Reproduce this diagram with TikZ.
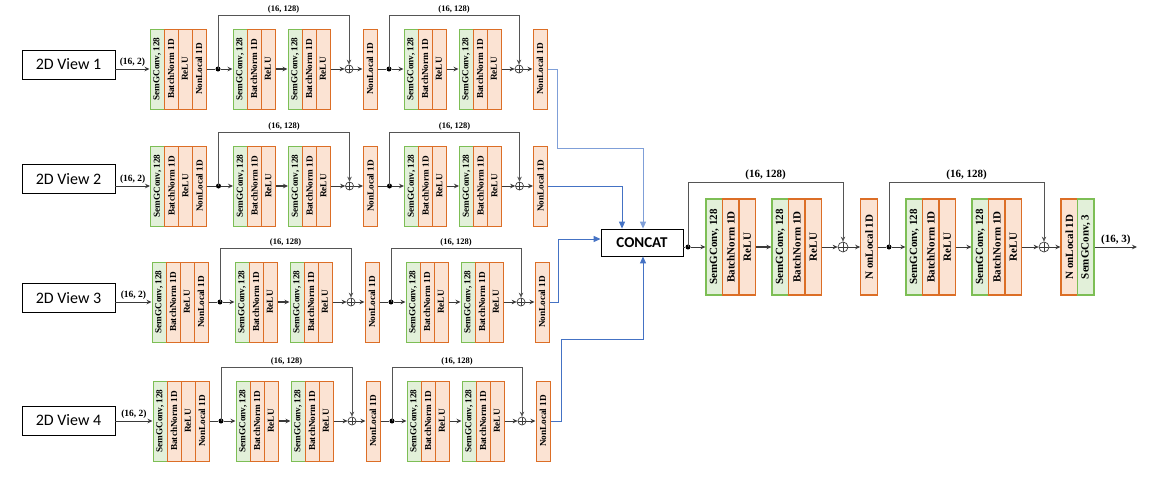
\documentclass[tikz,border=0pt]{standalone}
\usepackage{fontspec}
\setmainfont{Liberation Serif}
\newfontfamily\carlito{Carlito}
\usetikzlibrary{arrows.meta,calc}
\definecolor{gfill}{HTML}{E2F0D9}
\definecolor{gdraw}{HTML}{7DBE55}
\definecolor{ofill}{HTML}{FBE3D3}
\definecolor{odraw}{HTML}{DC6E26}
\definecolor{bline}{HTML}{4472C4}
\definecolor{bline2}{HTML}{7F9FD8}
\definecolor{gline}{HTML}{3A3A3A}
\definecolor{sline}{HTML}{555555}
\tikzset{
  blk/.style={minimum width=14pt, minimum height=80pt, inner sep=0pt, line width=1pt,
    font=\bfseries\fontsize{9.2}{10}\selectfont},
  gbox/.style={blk, draw=gdraw, fill=gfill},
  obox/.style={blk, draw=odraw, fill=ofill},
  bblk/.style={minimum width=16.5pt, minimum height=96pt, inner sep=0pt, line width=1.1pt,
    font=\bfseries\fontsize{11}{12}\selectfont},
  gbig/.style={bblk, draw=gdraw, fill=gfill},
  obig/.style={bblk, draw=odraw, fill=ofill},
  jdot/.style={circle, fill=black, inner sep=0pt, minimum size=5pt},
  plus/.style={circle, draw=gline, line width=0.7pt, inner sep=0pt, minimum size=#1,
    path picture={\draw[gline, line width=0.7pt] (path picture bounding box.north) -- (path picture bounding box.south)
      (path picture bounding box.west) -- (path picture bounding box.east);}},
  plus/.default=8pt,
  conn/.style={draw=gline, line width=0.9pt, -{Stealth[length=5pt,width=4.5pt]}},
  plain/.style={draw=gline, line width=0.9pt},
  skipln/.style={draw=sline, line width=0.8pt, -{Stealth[length=5pt,width=4.5pt]}},
  lbl/.style={font=\bfseries\fontsize{8.5}{9}\selectfont, inner sep=1pt},
  biglbl/.style={font=\bfseries\fontsize{11}{12}\selectfont, inner sep=1.5pt},
  view/.style={draw=black, line width=0.8pt, minimum width=93pt, minimum height=29pt, inner sep=0pt,
    font=\carlito\fontsize{16}{18}\selectfont},
  bluearr/.style={draw=#1, line width=1pt, -{Triangle[length=7pt,width=6pt]}},
}
\begin{document}
\begin{tikzpicture}[x=1pt,y=-1pt]
\useasboundingbox (0,0) rectangle (1151,477);

\foreach \r/\Y/\dx/\cy in {1/69/0/64.5, 2/186/0.5/179, 3/302/2/298, 4/421/3/420.5}{
  \node[view] (v\r) at (68.5,\cy) {2D View \r};
  % first block
  \node[gbox] (g1-\r) at ({157+\dx},\Y) {\rotatebox{90}{SemGConv, 128}};
  \node[obox] (b1-\r) at ({171+\dx},\Y) {\rotatebox{90}{BatchNorm 1D}};
  \node[obox] (r1-\r) at ({185+\dx},\Y) {\rotatebox{90}{ReLU}};
  \node[obox] (nl1-\r) at ({199+\dx},\Y) {\rotatebox{90}{NonLocal 1D}};
  \node[jdot] (d1-\r) at ({218+\dx},\Y) {};
  \node[gbox] (g2-\r) at ({240+\dx},\Y) {\rotatebox{90}{SemGConv, 128}};
  \node[obox] (b2-\r) at ({254+\dx},\Y) {\rotatebox{90}{BatchNorm 1D}};
  \node[obox] (r2-\r) at ({268+\dx},\Y) {\rotatebox{90}{ReLU}};
  \node[gbox] (g3-\r) at ({295+\dx},\Y) {\rotatebox{90}{SemGConv, 128}};
  \node[obox] (b3-\r) at ({309+\dx},\Y) {\rotatebox{90}{BatchNorm 1D}};
  \node[obox] (r3-\r) at ({323+\dx},\Y) {\rotatebox{90}{ReLU}};
  \node[plus] (p1-\r) at ({349+\dx},\Y) {};
  \node[obox] (nl2-\r) at ({370+\dx},\Y) {\rotatebox{90}{NonLocal 1D}};
  \node[jdot] (d2-\r) at ({389+\dx},\Y) {};
  \node[gbox] (g4-\r) at ({411+\dx},\Y) {\rotatebox{90}{SemGConv, 128}};
  \node[obox] (b4-\r) at ({425+\dx},\Y) {\rotatebox{90}{BatchNorm 1D}};
  \node[obox] (r4-\r) at ({439+\dx},\Y) {\rotatebox{90}{ReLU}};
  \node[gbox] (g5-\r) at ({466+\dx},\Y) {\rotatebox{90}{SemGConv, 128}};
  \node[obox] (b5-\r) at ({480+\dx},\Y) {\rotatebox{90}{BatchNorm 1D}};
  \node[obox] (r5-\r) at ({494+\dx},\Y) {\rotatebox{90}{ReLU}};
  \node[plus] (p2-\r) at ({519+\dx},\Y) {};
  \node[obox] (nl3-\r) at ({540+\dx},\Y) {\rotatebox{90}{NonLocal 1D}};
  % connectors
  \draw[conn] (v\r.east |- g1-\r.west) -- (g1-\r.west)
     node[midway, above, font=\bfseries\fontsize{9.5}{10}\selectfont, inner sep=2pt] {(16, 2)};
  \draw[plain] (nl1-\r.east) -- (d1-\r);
  \draw[conn] (d1-\r) -- (g2-\r.west);
  \draw[conn, line width=1.3pt] (r2-\r.east) -- (g3-\r.west);
  \draw[conn] (r3-\r.east) -- (p1-\r.west);
  \draw[conn] (p1-\r.east) -- (nl2-\r.west);
  \draw[plain] (nl2-\r.east) -- (d2-\r);
  \draw[conn] (d2-\r) -- (g4-\r.west);
  \draw[conn] (r4-\r.east) -- (g5-\r.west);
  \draw[conn] (r5-\r.east) -- (p2-\r.west);
  \draw[conn] (p2-\r.east) -- (nl3-\r.west);
  \draw[skipln] (d1-\r.center) -- ++(0,-54) -| (p1-\r.north) node[pos=0.25, above, lbl] {(16, 128)};
  \draw[skipln] (d2-\r.center) -- ++(0,-54) -| (p2-\r.north) node[pos=0.25, above, lbl] {(16, 128)};
}

% CONCAT
\node[draw=black, line width=0.8pt, minimum width=82pt, minimum height=27pt, inner sep=0pt,
  font=\carlito\bfseries\fontsize{15}{16}\selectfont] (cc) at (642,242.5) {CONCAT};

\coordinate (k1) at (557,148);
\coordinate (k3) at (558,239);
\coordinate (k4) at (561,339);
\draw[bluearr=bline2] (nl3-1.east) -| (k1) -| ([xshift=1pt]cc.north);
\draw[bluearr=bline] (nl3-2.east) -| ([xshift=-20pt]cc.north);
\draw[bluearr=bline] (nl3-3.east) -| (k3) -- ([yshift=3.5pt]cc.west);
\draw[bluearr=bline] (nl3-4.east) -| (k4) -| ([xshift=1pt]cc.south);

% right pipeline
\def\RY{247}
\node[jdot] (e1) at (688,\RY) {};
\node[gbig] (ga) at (714.25,\RY) {\rotatebox{90}{SemGConv, 128}};
\node[obig] (ba) at (730.75,\RY) {\rotatebox{90}{BatchNorm 1D}};
\node[obig] (ra) at (747.25,\RY) {\rotatebox{90}{ReLU}};
\node[gbig] (gb) at (780.25,\RY) {\rotatebox{90}{SemGConv, 128}};
\node[obig] (bb) at (796.75,\RY) {\rotatebox{90}{BatchNorm 1D}};
\node[obig] (rb) at (813.25,\RY) {\rotatebox{90}{ReLU}};
\node[plus=10pt] (q1) at (843,\RY) {};
\node[obig] (nla) at (869,\RY) {\rotatebox{90}{N onLocal 1D}};
\node[jdot] (e2) at (889,\RY) {};
\node[gbig] (gc) at (914.25,\RY) {\rotatebox{90}{SemGConv, 128}};
\node[obig] (bc) at (930.75,\RY) {\rotatebox{90}{BatchNorm 1D}};
\node[obig] (rc) at (947.25,\RY) {\rotatebox{90}{ReLU}};
\node[gbig] (gd) at (980.25,\RY) {\rotatebox{90}{SemGConv, 128}};
\node[obig] (bd) at (996.75,\RY) {\rotatebox{90}{BatchNorm 1D}};
\node[obig] (rd) at (1013.25,\RY) {\rotatebox{90}{ReLU}};
\node[plus=10pt] (q2) at (1044,\RY) {};
\node[obig] (nlb) at (1069.25,\RY) {\rotatebox{90}{N onLocal 1D}};
\node[gbig] (gf) at (1085.75,\RY) {\rotatebox{90}{SemGConv, 3}};
\coordinate (out) at (1137,\RY);

\draw[plain] (cc.east |- e1) -- (e1);
\draw[conn] (e1) -- (ga.west);
\draw[conn, line width=1.3pt] (ra.east) -- (gb.west);
\draw[conn] (rb.east) -- (q1.west);
\draw[conn] (q1.east) -- (nla.west);
\draw[plain] (nla.east) -- (e2);
\draw[conn] (e2) -- (gc.west);
\draw[conn] (rc.east) -- (gd.west);
\draw[conn] (rd.east) -- (q2.west);
\draw[conn] (q2.east) -- (nlb.west);
\draw[conn] (gf.east) -- (out) node[midway, above, biglbl] {(16, 3)};
\draw[skipln] (e1.center) -- ++(0,-65) -| (q1.north) node[pos=0.25, above, biglbl] {(16, 128)};
\draw[skipln] (e2.center) -- ++(0,-65) -| (q2.north) node[pos=0.25, above, biglbl] {(16, 128)};
\end{tikzpicture}
\end{document}
